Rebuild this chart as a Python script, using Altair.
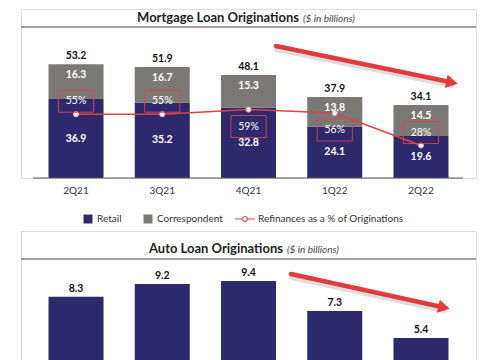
import altair as alt
import pandas as pd
import math

# ---------------- data ----------------
quarters = ["2Q21", "3Q21", "4Q21", "1Q22", "2Q22"]
retail = [36.9, 35.2, 32.8, 24.1, 19.6]
correspondent = [16.3, 16.7, 15.3, 13.8, 14.5]
totals = [53.2, 51.9, 48.1, 37.9, 34.1]
refi_pct = [55, 55, 59, 56, 28]
refi_side = ["above", "above", "below", "below", "above"]
auto = [8.3, 9.2, 9.4, 7.3, 5.4]
series = ["Retail", "Correspondent", "Refinances as a % of Originations"]

# ---------------- style ----------------
PURPLE = "#2e296c"
GRAY = "#7b7976"
RED = "#dc4444"
ARROW = "#e23b3b"
BOX = "#d9484f"
FONT = "Lato"
W = 455
H_TOP = 169
H_BOT = 130

seg = pd.DataFrame({
    "quarter": quarters * 2,
    "segment": ["Retail"] * 5 + ["Correspondent"] * 5,
    "value": retail + correspondent,
    "rank": [0] * 5 + [1] * 5,
})
wide = pd.DataFrame({
    "quarter": quarters, "retail": retail, "corr": correspondent,
    "total": totals, "pct": refi_pct, "side": refi_side,
})
auto_df = pd.DataFrame({"quarter": quarters, "auto": auto})
one = pd.DataFrame({"a": [0]})

xscale = alt.Scale(domain=quarters, paddingInner=0.362, paddingOuter=0.319, align=0.5)
x_axis = alt.Axis(title=None, domain=False, ticks=False, labelFont=FONT, labelFontSize=10,
                  labelColor="#333333", labelPadding=7, labelAngle=0)
X = alt.X("quarter:N", scale=xscale, axis=x_axis, sort=quarters)
XB = alt.X("quarter:N", scale=xscale, axis=None, sort=quarters)

ybar = alt.Scale(domain=[0, 79], nice=False, zero=True)
ypct = alt.Scale(domain=[0, 145.7], nice=False, zero=True)
ybot = alt.Scale(domain=[3.79, 12.91], nice=False, zero=False)

REFI = series[2]
SQ = "M-0.05,-0.45H0.85V0.45H-0.05Z"
LN = ("M-1,-0.06H-0.3V0.06H-1Z M0.3,-0.06H1V0.06H0.3Z "
      "M0.3,0A0.3,0.3 0 1 1 -0.3,0A0.3,0.3 0 1 1 0.3,0Z "
      "M0.19,0A0.19,0.19 0 1 0 -0.19,0A0.19,0.19 0 1 0 0.19,0Z")
legend = alt.Legend(
    orient="none", legendX=53, legendY=200, direction="horizontal", title=None,
    labelFont=FONT, labelFontSize=10, labelColor="#333333", symbolSize=400,
    labelOffset=3, columnPadding=12, symbolStrokeWidth=0, symbolOpacity=1,
    symbolType=alt.ExprRef(expr=f"datum.value === '{REFI}' ? '{LN}' : '{SQ}'"),
)


def title_layers(bold, italic, x_split, y, rule_y):
    t1 = alt.Chart(pd.DataFrame({"t": [bold]})).mark_text(
        font=FONT, fontSize=13, fontWeight="bold", color="#222222", align="right", baseline="middle"
    ).encode(text="t:N", x=alt.value(x_split), y=alt.value(y))
    t2 = alt.Chart(pd.DataFrame({"t": [italic]})).mark_text(
        font=FONT, fontSize=10, fontStyle="italic", color="#444444", align="left", baseline="middle"
    ).encode(text="t:N", x=alt.value(x_split + 4), y=alt.value(y + 0.5))
    r = alt.Chart(one).mark_rule(color="#444444", strokeWidth=1).encode(
        x=alt.value(0), x2=alt.value(W), y=alt.value(rule_y))
    return [t1, t2, r]


def arrow_layers(x1, y1, x2, y2):
    ang = math.degrees(math.atan2(y2 - y1, x2 - x1))
    shadow = alt.Chart(one).mark_rule(color="#777777", opacity=0.25, strokeWidth=6, strokeCap="round").encode(
        x=alt.value(x1 + 1), y=alt.value(y1 + 3), x2=alt.value(x2 - 4), y2=alt.value(y2 + 2))
    shaft = alt.Chart(one).mark_rule(color=ARROW, strokeWidth=4.5, strokeCap="round").encode(
        x=alt.value(x1), y=alt.value(y1), x2=alt.value(x2 - 6), y2=alt.value(y2 - 1))
    head = alt.Chart(one).mark_point(shape="triangle-right", filled=True, color=ARROW, size=180,
                                     angle=ang, opacity=1).encode(x=alt.value(x2 - 4), y=alt.value(y2 - 0.5))
    return [shadow, shaft, head]


# ---------------- top chart ----------------
bars = alt.Chart(seg).mark_bar().encode(
    x=X,
    y=alt.Y("value:Q", stack="zero", scale=ybar, axis=None),
    color=alt.Color("segment:N", scale=alt.Scale(domain=series, range=[PURPLE, GRAY, RED]), legend=legend),
    order=alt.Order("rank:Q", sort="ascending"),
)
baseline = alt.Chart(one).mark_rule(color="#555555", strokeWidth=1).encode(
    x=alt.value(12), x2=alt.value(442), y=alt.YDatum(0, scale=ybar, axis=None))

lbl_style = dict(font=FONT, fontSize=10.5, fontWeight="bold")
ret_lbl = alt.Chart(wide).transform_calculate(mid="datum.retail / 2").mark_text(
    color="white", **lbl_style).encode(
    x=X, y=alt.Y("mid:Q", scale=ybar, axis=None), text=alt.Text("retail:Q", format=".1f"))
cor_lbl = alt.Chart(wide).mark_text(color="white", dy=11, **lbl_style).encode(
    x=X, y=alt.Y("total:Q", scale=ybar, axis=None), text=alt.Text("corr:Q", format=".1f"))
tot_lbl = alt.Chart(wide).mark_text(color="#111111", dy=-8, **lbl_style).encode(
    x=X, y=alt.Y("total:Q", scale=ybar, axis=None), text=alt.Text("total:Q", format=".1f"))

line = alt.Chart(wide).mark_line(color=RED, strokeWidth=1.5).encode(
    x=X, y=alt.Y("pct:Q", scale=ypct, axis=None))
pts = alt.Chart(wide).mark_circle(color="white", size=26, opacity=1, stroke="#f2a0a0", strokeWidth=1).encode(
    x=X, y=alt.Y("pct:Q", scale=ypct, axis=None))

BOXP = "M-1.6,-1L1.6,-1L1.6,1L-1.6,1Z"
pct_layers = []
for side, off in (("above", -13), ("below", 17)):
    base = alt.Chart(wide).transform_filter(f"datum.side === '{side}'").transform_calculate(
        plabel="datum.pct + '%'")
    pct_layers.append(base.mark_text(color="white", font=FONT, fontSize=10.5, dy=off).encode(
        x=X, y=alt.Y("pct:Q", scale=ypct, axis=None), text="plabel:N"))
    pct_layers.append(base.mark_point(shape=BOXP, size=484, filled=False, color=BOX, strokeWidth=1,
                                      opacity=0.9, yOffset=off).encode(
        x=X, y=alt.Y("pct:Q", scale=ypct, axis=None)))

top = alt.layer(
    bars, baseline, line, pts, ret_lbl, cor_lbl, tot_lbl, *pct_layers,
    *title_layers("Mortgage Loan Originations", "($ in billions)", 278, 9, 18),
    *arrow_layers(255, 37, 435, 74),
).resolve_scale(y="independent").properties(width=W, height=H_TOP)

# ---------------- bottom chart ----------------
bbars = alt.Chart(auto_df).mark_bar(color=PURPLE, clip=True).encode(
    x=XB, y=alt.Y("auto:Q", scale=ybot, axis=None))
blbl = alt.Chart(auto_df).mark_text(color="#111111", dy=-8, **lbl_style).encode(
    x=XB, y=alt.Y("auto:Q", scale=ybot, axis=None), text=alt.Text("auto:Q", format=".1f"))

bottom = alt.layer(
    bbars, blbl,
    *title_layers("Auto Loan Originations", "($ in billions)", 262, 18, 28),
    *arrow_layers(270, 43, 427, 77),
).properties(width=W, height=H_BOT)

chart = alt.vconcat(top, bottom, spacing=53, bounds="flush").resolve_scale(
    y="independent", x="independent"
).properties(
    padding={"left": 12, "top": 0, "right": 0, "bottom": 0}
).configure_view(stroke="transparent", strokeWidth=0).configure(background="white")

chart.save("out.html", embed_options={"renderer": "svg", "actions": False})
